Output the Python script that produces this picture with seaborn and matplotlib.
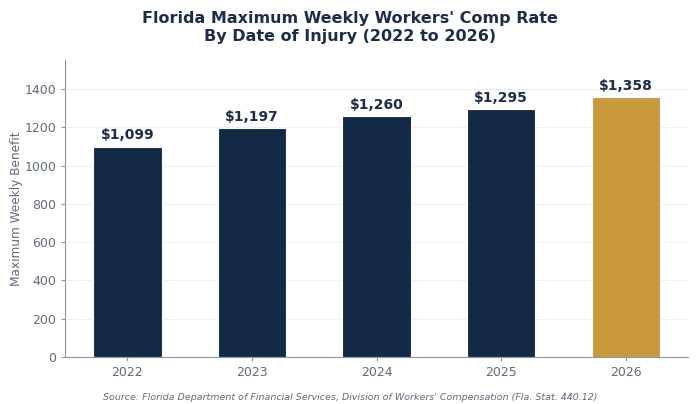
import matplotlib
matplotlib.use("Agg")
import matplotlib.pyplot as plt
import seaborn as sns
import pandas as pd

# Data
years = ["2022", "2023", "2024", "2025", "2026"]
max_rates = [1099, 1197, 1260, 1295, 1358]

navy = "#132a47"
gold = "#c99a3c"
text_dark = "#1b2d4a"
tick_grey = "#5f6b7a"

df = pd.DataFrame({"Year": years, "Rate": max_rates})
bar_colors = [navy] * (len(years) - 1) + [gold]

sns.set_style("white")
fig = plt.figure(figsize=(7, 4.04), dpi=100)
ax = fig.add_axes([0.093, 0.1163, 0.890, 0.735])

sns.barplot(data=df, x="Year", y="Rate", hue="Year", palette=bar_colors,
            saturation=1, legend=False, width=0.55, edgecolor="white",
            linewidth=0.8, ax=ax)

for i, v in enumerate(max_rates):
    ax.text(i, v + 22, f"${v:,}", ha="center", va="bottom",
            fontsize=10, fontweight="bold", color=text_dark)

ax.set_ylim(0, max(max_rates) * 1.142)
ax.set_xlim(-0.5, 4.5)
ax.yaxis.grid(True, color="#eef1f4", linewidth=0.8)
ax.set_axisbelow(True)
sns.despine(ax=ax, top=True, right=True)
for s in ["left", "bottom"]:
    ax.spines[s].set_color("#8a94a3")
ax.tick_params(axis="both", colors="#8a94a3", labelcolor=tick_grey, labelsize=9,
               length=3, left=True, bottom=True)
ax.set_xlabel("")
ax.set_ylabel("Maximum Weekly Benefit", fontsize=8.7, color=tick_grey, labelpad=1)

fig.suptitle("Florida Maximum Weekly Workers' Comp Rate\nBy Date of Injury (2022 to 2026)",
             fontsize=11.5, fontweight="bold", color=text_dark, y=0.972)
fig.text(0.5, 0.006, "Source: Florida Department of Financial Services, Division of Workers' Compensation (Fla. Stat. 440.12)",
         ha="center", va="bottom", fontsize=6.8, style="italic", color=tick_grey)

fig.savefig("out.png", dpi=100)
